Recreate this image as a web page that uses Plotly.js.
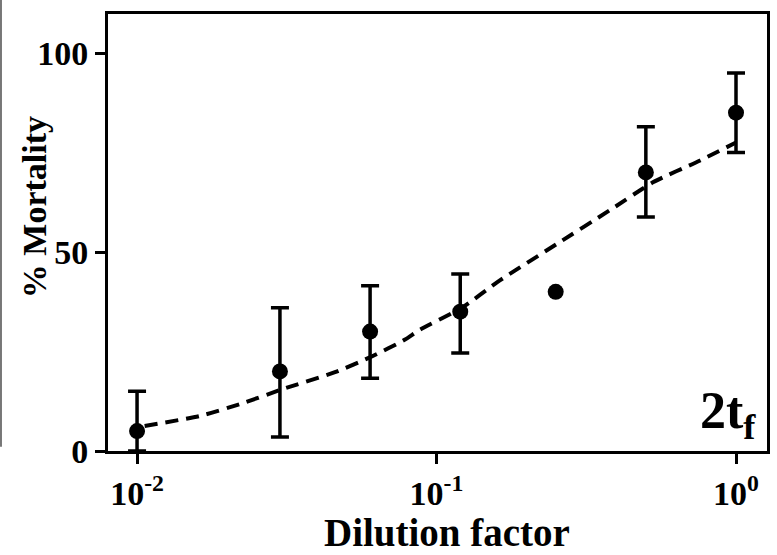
<!DOCTYPE html>
<html>
<head>
<meta charset="utf-8">
<script src="https://cdn.plot.ly/plotly-3.0.1.min.js"></script>
<style>html,body{margin:0;padding:0;background:#fff;}#chart{width:777px;height:555px;}</style>
</head>
<body>
<div id="chart"></div>
<script>
// Measured points (NaN = no error bar drawn for that point)
const dilution = [0.01, 0.03, 0.06, 0.12, 0.25, 0.5, 1.0];
const mortality = [5, 20, 30, 35, 40, 70, 85];
const errUpper = [10, 16, 11.5, 9.5, NaN, 11.5, 10];
const errLower = [5, 16.5, 11.7, 10.4, NaN, 11.2, 10];

// Fitted curve
const curveX = [0.0106, 0.0162, 0.0221, 0.0305, 0.0458, 0.061, 0.0785, 0.0881, 0.1217, 0.160, 0.252, 0.379, 0.528, 0.759, 1.0];
const curveY = [6.3, 8.8, 11.8, 15.5, 19.8, 23.8, 28, 30.5, 36, 42.5, 52, 60.5, 67.5, 73, 77.5];

const xTickVals = [0.01, 0.1, 1];
const xTickText = ['10<sup>-2</sup>', '10<sup>-1</sup>', '10<sup>0</sup>'];
const yTickVals = [0, 50, 100];

const serif = 'Liberation Serif, Times New Roman, serif';

const traces = [
  {
    x: curveX, y: curveY, type: 'scatter', mode: 'lines',
    line: {color: '#000', width: 4, dash: '13px,8px', shape: 'spline', smoothing: 0.6},
    hoverinfo: 'skip', showlegend: false
  },
  {
    x: dilution, y: mortality, type: 'scatter', mode: 'markers',
    marker: {color: '#000', size: 16, symbol: 'circle'},
    error_y: {type: 'data', symmetric: false, array: errUpper, arrayminus: errLower,
      color: '#000', thickness: 3.5, width: 9},
    cliponaxis: false,
    showlegend: false
  }
];

const layout = {
  width: 777, height: 555,
  margin: {l: 108, r: 10, t: 14, b: 104},
  paper_bgcolor: '#fff', plot_bgcolor: '#fff',
  showlegend: false,
  font: {family: serif, color: '#000'},
  xaxis: {
    type: 'log', range: [-2.097, 0.1035],
    tickvals: xTickVals, ticktext: xTickText,
    ticks: 'outside', ticklen: 10, tickwidth: 3, tickcolor: '#000',
    showline: true, linewidth: 3, linecolor: '#000', mirror: true,
    showgrid: false, zeroline: false,
    tickfont: {family: serif, size: 34, weight: 'bold', color: '#000'}
  },
  yaxis: {
    range: [0, 109.8],
    tickvals: yTickVals,
    ticks: 'outside', ticklen: 10, tickwidth: 3, tickcolor: '#000',
    showline: true, linewidth: 3, linecolor: '#000', mirror: true,
    showgrid: false, zeroline: false,
    tickfont: {family: serif, size: 34, weight: 'bold', color: '#000'}
  },
  annotations: [
    {
      text: 'Dilution factor', xref: 'paper', yref: 'paper', x: 0.514, y: -0.186,
      xanchor: 'center', yanchor: 'middle', showarrow: false,
      font: {family: serif, size: 39, weight: 'bold', color: '#000'}
    },
    {
      text: '% Mortality', xref: 'paper', yref: 'paper', x: -0.1123, y: 0.558,
      xanchor: 'center', yanchor: 'middle', textangle: -90, showarrow: false,
      font: {family: serif, size: 34, weight: 'bold', color: '#000'}
    },
    {
      text: '2t<sub>f</sub>', xref: 'paper', yref: 'paper', x: 0.986, y: 0.005,
      xanchor: 'right', yanchor: 'bottom', showarrow: false,
      font: {family: serif, size: 52, weight: 'bold', color: '#000'}
    }
  ],
  shapes: [
    {type: 'line', xref: 'paper', yref: 'paper', x0: -0.1624, x1: -0.1624, y0: 0.01, y1: 1.035,
      line: {color: '#777', width: 2}}
  ]
};

Plotly.newPlot('chart', traces, layout, {staticPlot: true, displayModeBar: false});
</script>
</body>
</html>
